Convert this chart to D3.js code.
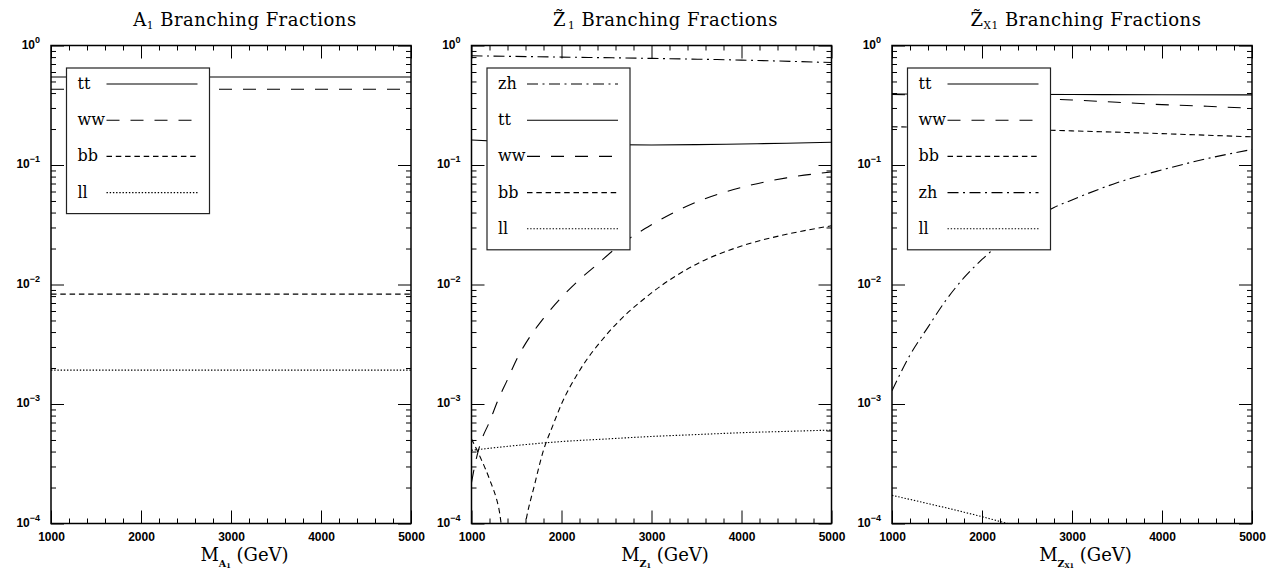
<!DOCTYPE html>
<html><head><meta charset="utf-8">
<script src="https://cdn.jsdelivr.net/npm/d3@7"></script>
<style>body{margin:0;background:#fff}svg{display:block}</style>
</head><body>
<svg id="c" width="1278" height="569"></svg>
<script>
// ---------- data ----------
const xTickValues = [1000, 2000, 3000, 4000, 5000];
const xTickLabels = ["1000", "2000", "3000", "4000", "5000"];
const yTickValues = [1e-4, 1e-3, 1e-2, 1e-1, 1];
const yTickExponents = ["\u22124", "\u22123", "\u22122", "\u22121", "0"];

// Panel 1: A1
const a1Mass = [1000, 2000, 3000, 4000, 5000];
const a1_tt = [0.545, 0.545, 0.545, 0.545, 0.545];
const a1_ww = [0.43, 0.43, 0.43, 0.43, 0.43];
const a1_bb = [0.0083, 0.0083, 0.0083, 0.0083, 0.0083];
const a1_ll = [0.00192, 0.00192, 0.00192, 0.00192, 0.00192];

// Panel 2: Z~1
const z1Mass_zh = [1000, 2000, 3000, 4000, 5000];
const z1_zh = [0.82, 0.80, 0.78, 0.755, 0.72];
const z1Mass_tt = [1000, 1500, 2000, 2500, 3000, 3500, 4000, 4500, 5000];
const z1_tt = [0.162, 0.155, 0.150, 0.148, 0.147, 0.148, 0.150, 0.152, 0.155];
const z1Mass_ww = [1000, 1050, 1100, 1200, 1300, 1400, 1500, 1600, 1800, 2000, 2200, 2400, 2600, 3000, 3500, 4000, 4500, 5000];
const z1_ww = [2.2e-4, 3.4e-4, 4.7e-4, 7.1e-4, 1.1e-3, 1.6e-3, 2.35e-3, 3.2e-3, 5.2e-3, 7.8e-3, 0.011, 0.0148, 0.020, 0.0316, 0.049, 0.065, 0.078, 0.0875];
const z1Mass_bb = [1000, 1100, 1200, 1300, 1400, 1550, 1600, 1700, 1800, 1900, 2000, 2200, 2500, 3000, 3500, 4000, 4500, 5000];
const z1_bb = [5.1e-4, 3.55e-4, 2.35e-4, 1.38e-4, 5e-5, 5.6e-5, 1.0e-4, 2.1e-4, 4.1e-4, 6.5e-4, 1.0e-3, 1.9e-3, 3.8e-3, 8.5e-3, 0.0148, 0.021, 0.0263, 0.031];
const z1Mass_ll = [1000, 1500, 2000, 2500, 3000, 3500, 4000, 4500, 5000];
const z1_ll = [4.1e-4, 4.5e-4, 4.85e-4, 5.1e-4, 5.35e-4, 5.55e-4, 5.75e-4, 5.9e-4, 6.05e-4];

// Panel 3: Z~X1
const zxMass_tt = [1000, 2000, 3000, 4000, 5000];
const zx_tt = [0.393, 0.391, 0.389, 0.387, 0.386];
const zxMass_ww = [1000, 1500, 2000, 2500, 3000, 3500, 4000, 4500, 5000];
const zx_ww = [0.39, 0.38, 0.37, 0.36, 0.35, 0.335, 0.32, 0.31, 0.298];
const zxMass_bb = [1000, 2000, 3000, 4000, 5000];
const zx_bb = [0.209, 0.202, 0.193, 0.183, 0.172];
const zxMass_zh = [1000, 1200, 1400, 1600, 1800, 2000, 2200, 2500, 2800, 3000, 3500, 4000, 4500, 5000];
const zx_zh = [1.29e-3, 2.57e-3, 4.4e-3, 7.4e-3, 0.0114, 0.0162, 0.0219, 0.0316, 0.044, 0.051, 0.071, 0.091, 0.113, 0.135];
const zxMass_ll = [1000, 1500, 2000, 2500];
const zx_ll = [1.72e-4, 1.41e-4, 1.14e-4, 9.0e-5];

// ---------- layout / style ----------
const dashes = {tt: null, ww: "13,11", bb: "5.5,3.8", ll: "1.4,1.8", zh: "11,4.5,2,4.5"};
const panels = [
  {title: {base: "A", sub: "1"}, xlab: {sub: "A", subsub: "1"},
   series: [{k: "tt", m: a1Mass, v: a1_tt}, {k: "ww", m: a1Mass, v: a1_ww}, {k: "bb", m: a1Mass, v: a1_bb}, {k: "ll", m: a1Mass, v: a1_ll}],
   legend: ["tt", "ww", "bb", "ll"]},
  {title: {base: "Z\u0303", sub: "1", gap: 2}, xlab: {sub: "Z", subsub: "1"},
   series: [{k: "zh", m: z1Mass_zh, v: z1_zh}, {k: "tt", m: z1Mass_tt, v: z1_tt}, {k: "ww", m: z1Mass_ww, v: z1_ww}, {k: "bb", m: z1Mass_bb, v: z1_bb}, {k: "ll", m: z1Mass_ll, v: z1_ll}],
   legend: ["zh", "tt", "ww", "bb", "ll"]},
  {title: {base: "Z\u0303", sub: "X1"}, xlab: {sub: "Z", subsub: "X1"},
   series: [{k: "tt", m: zxMass_tt, v: zx_tt}, {k: "ww", m: zxMass_ww, v: zx_ww}, {k: "bb", m: zxMass_bb, v: zx_bb}, {k: "zh", m: zxMass_zh, v: zx_zh}, {k: "ll", m: zxMass_ll, v: zx_ll}],
   legend: ["tt", "ww", "bb", "zh", "ll"]}
];

const svg = d3.select("#c");
const left0 = 51, step = 420.5, pw = 360;
const plotTop = 45.5, plotBottom = 523.5;
const serif = "'DejaVu Serif', serif";
const sans = "'Liberation Sans', Arial, sans-serif";
const minorX = d3.range(1200, 5000, 200).filter(v => v % 1000 !== 0);
const minorY = [];
for (let e = -4; e < 0; e++) for (let k = 2; k < 10; k++) minorY.push(k * Math.pow(10, e));

panels.forEach((p, i) => {
  const x0 = left0 + i * step;
  const x = d3.scaleLinear().domain([1000, 5000]).range([x0, x0 + pw]);
  const y = d3.scaleLog().domain([1e-4, 1]).range([plotBottom, plotTop]);
  const g = svg.append("g");

  g.append("clipPath").attr("id", "clip" + i).append("rect")
    .attr("x", x0).attr("y", plotTop).attr("width", pw).attr("height", plotBottom - plotTop);

  // curves
  const line = d3.line().x(d => x(d[0])).y(d => y(d[1])).curve(d3.curveMonotoneX);
  const cg = g.append("g").attr("clip-path", `url(#clip${i})`);
  p.series.forEach(s => {
    cg.append("path").datum(s.m.map((m, k) => [m, s.v[k]]))
      .attr("d", line).attr("fill", "none").attr("stroke", "#000")
      .attr("stroke-width", 1.1).attr("stroke-dasharray", dashes[s.k]);
  });

  // ticks
  const clean = a => { a.select(".domain").remove(); a.selectAll("line").attr("stroke", "#000"); };
  g.append("g").attr("transform", `translate(0,${plotBottom})`)
    .call(d3.axisBottom(x).tickValues(xTickValues).tickSize(-13).tickSizeOuter(0).tickFormat((d, k) => xTickLabels[k]))
    .call(clean)
    .call(a => a.selectAll("text").attr("y", 17.5).attr("dy", null).attr("font-family", sans).attr("font-weight", "bold").attr("font-size", 12).attr("fill", "#000"));
  g.append("g").attr("transform", `translate(0,${plotBottom})`)
    .call(d3.axisBottom(x).tickValues(minorX).tickSize(-5).tickSizeOuter(0).tickFormat(""))
    .call(clean);
  g.append("g").attr("transform", `translate(0,${plotTop})`)
    .call(d3.axisTop(x).tickValues(xTickValues).tickSize(-13).tickSizeOuter(0).tickFormat(""))
    .call(clean);
  g.append("g").attr("transform", `translate(0,${plotTop})`)
    .call(d3.axisTop(x).tickValues(minorX).tickSize(-5).tickSizeOuter(0).tickFormat(""))
    .call(clean);
  g.append("g").attr("transform", `translate(${x0},0)`)
    .call(d3.axisLeft(y).tickValues(yTickValues).tickSize(-13).tickSizeOuter(0).tickFormat(""))
    .call(clean);
  g.append("g").attr("transform", `translate(${x0},0)`)
    .call(d3.axisLeft(y).tickValues(minorY).tickSize(-5).tickSizeOuter(0).tickFormat(""))
    .call(clean);
  g.append("g").attr("transform", `translate(${x0 + pw},0)`)
    .call(d3.axisRight(y).tickValues(yTickValues).tickSize(-13).tickSizeOuter(0).tickFormat(""))
    .call(clean);
  g.append("g").attr("transform", `translate(${x0 + pw},0)`)
    .call(d3.axisRight(y).tickValues(minorY).tickSize(-5).tickSizeOuter(0).tickFormat(""))
    .call(clean);

  // y tick labels 10^n
  yTickValues.forEach((v, k) => {
    const t = g.append("text").attr("x", x0 - 11).attr("y", y(v) + 3)
      .attr("text-anchor", "end").attr("font-family", sans).attr("font-weight", "bold").attr("fill", "#000");
    t.append("tspan").attr("font-size", 12).text("10");
    t.append("tspan").attr("font-size", 9).attr("dy", -6).text(yTickExponents[k]);
  });

  // frame
  g.append("rect").attr("x", x0).attr("y", plotTop).attr("width", pw).attr("height", plotBottom - plotTop)
    .attr("fill", "none").attr("stroke", "#000").attr("stroke-width", 1.5);

  // legend
  const lx = x0 + 15.5, ly = 68, n = p.legend.length;
  const lh = 36.2 * (n - 1) + 16 + 21;
  g.append("rect").attr("x", lx).attr("y", ly).attr("width", 143).attr("height", lh)
    .attr("fill", "#fff").attr("stroke", "#222").attr("stroke-width", 1.2);
  p.legend.forEach((k, j) => {
    const yy = ly + 16 + j * 36.2;
    g.append("text").attr("x", lx + 11).attr("y", yy + 5).attr("font-family", serif)
      .attr("font-size", 16).attr("fill", "#000").text(k);
    g.append("line").attr("x1", lx + 40).attr("x2", lx + 131).attr("y1", yy).attr("y2", yy)
      .attr("stroke", "#000").attr("stroke-width", 1.1).attr("stroke-dasharray", dashes[k]);
  });

  // title
  const cx = x0 + 194;
  const tt = g.append("text").attr("x", cx).attr("y", 26).attr("text-anchor", "middle")
    .attr("font-family", serif).attr("font-size", 18).attr("letter-spacing", 0.5).attr("fill", "#000");
  tt.append("tspan").text(p.title.base);
  tt.append("tspan").attr("font-size", 10.5).attr("dy", 3).attr("dx", p.title.gap || 0).text(p.title.sub);
  tt.append("tspan").attr("dy", -3).text(" Branching Fractions");

  // x label
  const xl = g.append("text").attr("x", x0 + 193.5).attr("y", 560.7).attr("text-anchor", "middle")
    .attr("font-family", serif).attr("font-size", 18).attr("fill", "#000");
  xl.append("tspan").text("M");
  xl.append("tspan").attr("font-size", 9.5).attr("font-weight", "bold").attr("dy", 6).text(p.xlab.sub);
  xl.append("tspan").attr("font-size", 6.5).attr("font-weight", "bold").attr("dy", 1.5).text(p.xlab.subsub);
  xl.append("tspan").attr("dy", -7.5).text(" (GeV)");
});
</script>
</body></html>
